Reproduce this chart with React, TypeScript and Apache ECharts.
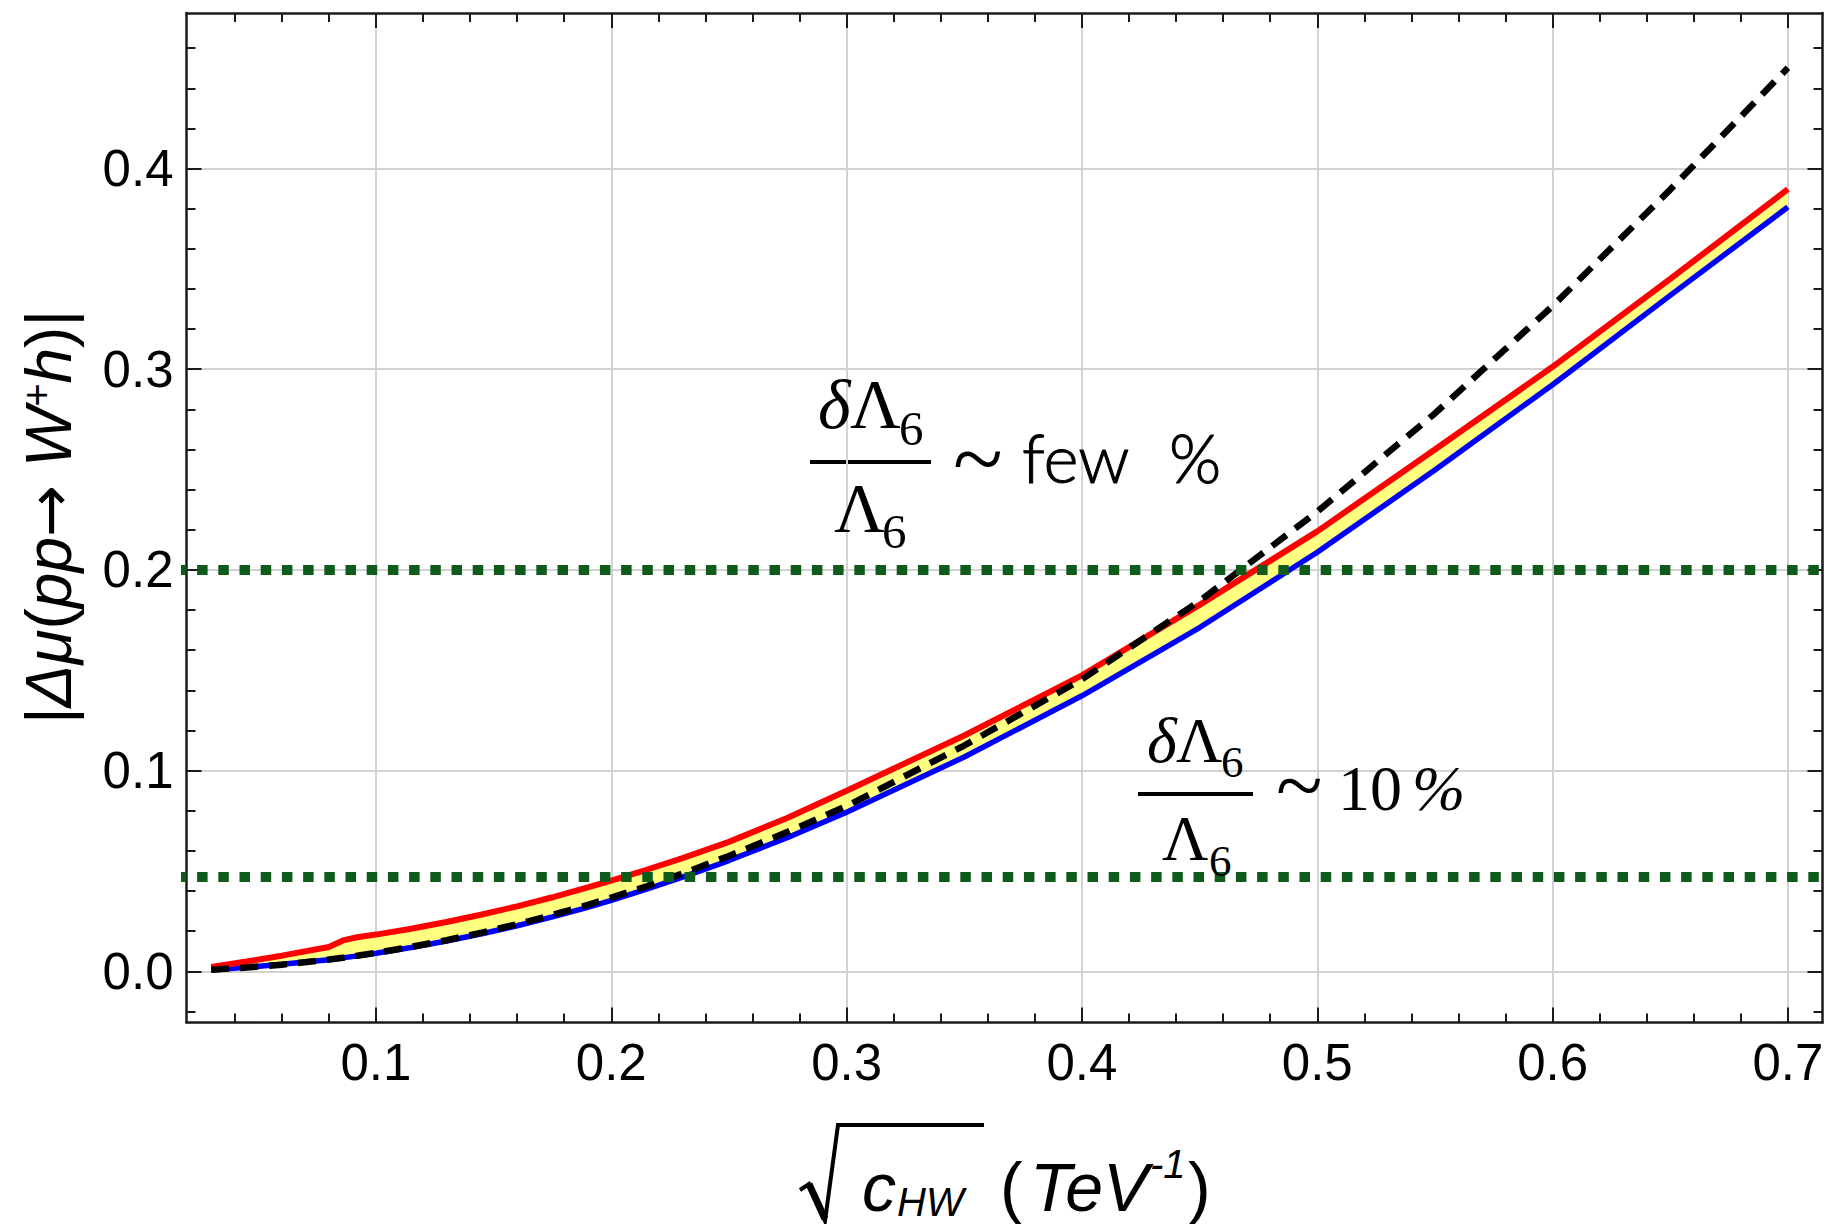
import React, { useEffect, useRef } from 'react';
import * as echarts from 'echarts';

// ---- data ----
const X_VALUES = [0.03, 0.045, 0.06, 0.08, 0.086, 0.092, 0.1, 0.115, 0.13, 0.145, 0.16, 0.175, 0.19, 0.2, 0.215, 0.23, 0.25, 0.275, 0.3, 0.35, 0.4, 0.45, 0.5, 0.55, 0.6, 0.65, 0.7];
const UPPER_RED = [0.0022, 0.0049, 0.0078, 0.0121, 0.0154, 0.017, 0.0183, 0.0212, 0.0246, 0.0283, 0.0324, 0.0369, 0.0418, 0.0452, 0.0506, 0.0563, 0.0645, 0.0765, 0.09, 0.1175, 0.1475, 0.1826, 0.2192, 0.26, 0.3012, 0.345, 0.3897];
const LOWER_BLUE = [0.0006, 0.002, 0.0035, 0.0058, 0.0067, 0.0077, 0.009, 0.0119, 0.0151, 0.0187, 0.0227, 0.0271, 0.0319, 0.0354, 0.0409, 0.0468, 0.0552, 0.0667, 0.0793, 0.1068, 0.1373, 0.1713, 0.2088, 0.2498, 0.2923, 0.3368, 0.3808];
const DASHED_BLACK = [0.0008, 0.0019, 0.0033, 0.0059, 0.0068, 0.0078, 0.0092, 0.0122, 0.0155, 0.0193, 0.0235, 0.0281, 0.0331, 0.0367, 0.0424, 0.0486, 0.0575, 0.0695, 0.0823, 0.1125, 0.1455, 0.1845, 0.229, 0.278, 0.3315, 0.3895, 0.4502];
const THRESHOLDS = [0.2, 0.047];
const THRESHOLD_SPAN = [0.015, 0.7182];

const X_MAJOR = [0.1, 0.2, 0.3, 0.4, 0.5, 0.6, 0.7];
const X_MINOR = [0.04, 0.06, 0.08, 0.12, 0.14, 0.16, 0.18, 0.22, 0.24, 0.26, 0.28, 0.32, 0.34, 0.36, 0.38, 0.42, 0.44, 0.46, 0.48, 0.52, 0.54, 0.56, 0.58, 0.62, 0.64, 0.66, 0.68];
const Y_MAJOR = [0, 0.1, 0.2, 0.3, 0.4];
const Y_MINOR = [-0.02, 0.02, 0.04, 0.06, 0.08, 0.12, 0.14, 0.16, 0.18, 0.22, 0.24, 0.26, 0.28, 0.32, 0.34, 0.36, 0.38, 0.42, 0.44, 0.46];

const X_RANGE = [0.0195, 0.7147];
const Y_RANGE = [-0.0255, 0.4775];

// ---- styles ----
const SANS = "'Liberation Sans', Arial, Helvetica, sans-serif";
const SERIF = "'Liberation Serif', 'Times New Roman', serif";
const LIGHT = "Lato, 'Liberation Sans', sans-serif";
const FRAME = '#1a1a1a';
const GRID = '#d2d2d2';

function makeAxis(kind: 'x' | 'y', position: string, ticks: number[], len: number, showLine: boolean, labels: boolean, split: boolean) {
  const range = kind === 'x' ? X_RANGE : Y_RANGE;
  return {
    type: 'value',
    position,
    min: range[0],
    max: range[1],
    axisLine: { show: showLine, onZero: false, lineStyle: { color: FRAME, width: 2.5 } },
    axisTick: { show: true, inside: true, length: len, customValues: ticks, lineStyle: { color: FRAME, width: 2 } },
    axisLabel: labels
      ? {
          show: true,
          customValues: ticks,
          formatter: (v: number) => v.toFixed(1),
          fontSize: 51,
          fontFamily: SANS,
          color: '#000',
          margin: kind === 'x' ? 14 : 13,
        }
      : { show: false },
    splitLine: { show: split, lineStyle: { color: GRID, width: 2 } },
    minorTick: { show: false },
    minorSplitLine: { show: false },
  };
}

function txt(text: string, left: number, baseline: number, size: number, family: string, extra: any = {}) {
  return {
    type: 'text',
    x: left,
    y: baseline - 0.34 * size,
    silent: true,
    z: 100,
    style: {
      text,
      fill: '#000',
      fontSize: size,
      fontFamily: family,
      fontStyle: extra.italic ? 'italic' : 'normal',
      fontWeight: extra.weight || 'normal',
      textAlign: extra.align || 'left',
      textVerticalAlign: 'middle',
      stroke: extra.stroke ? '#000' : null,
      lineWidth: extra.stroke || 0,
    },
  };
}

// tilde placed by its visual centre
function tilde(left: number, centerY: number, size: number) {
  return {
    type: 'text',
    x: left,
    y: centerY - 0.077 * size,
    silent: true,
    z: 100,
    style: { text: '~', fill: '#000', fontSize: size, fontFamily: SERIF, textAlign: 'left', textVerticalAlign: 'middle' },
  };
}

export default function App() {
  const ref = useRef<HTMLDivElement>(null);

  useEffect(() => {
    if (!ref.current) return;
    const chart = echarts.init(ref.current, undefined, { renderer: 'svg' });

    const pair = (ys: number[]) => X_VALUES.map((x, i) => [x, ys[i]]);

    const option: any = {
      animation: false,
      backgroundColor: '#ffffff',
      grid: { left: 186.5, right: 24.5, top: 13, bottom: 201.5, containLabel: false },
      xAxis: [
        makeAxis('x', 'bottom', X_MAJOR, 15, true, true, true),
        makeAxis('x', 'bottom', X_MINOR, 9, false, false, false),
        makeAxis('x', 'top', X_MAJOR, 15, true, false, false),
        makeAxis('x', 'top', X_MINOR, 9, false, false, false),
      ],
      yAxis: [
        makeAxis('y', 'left', Y_MAJOR, 15, true, true, true),
        makeAxis('y', 'left', Y_MINOR, 9, false, false, false),
        makeAxis('y', 'right', Y_MAJOR, 15, true, false, false),
        makeAxis('y', 'right', Y_MINOR, 9, false, false, false),
      ],
      series: [
        {
          type: 'custom',
          name: 'band',
          xAxisIndex: 0,
          yAxisIndex: 0,
          silent: true,
          z: 2,
          data: [[X_VALUES[0], UPPER_RED[0]]],
          renderItem: (_params: any, api: any) => {
            const pts: number[][] = [];
            for (let i = 0; i < X_VALUES.length; i++) pts.push(api.coord([X_VALUES[i], UPPER_RED[i]]));
            for (let i = X_VALUES.length - 1; i >= 0; i--) pts.push(api.coord([X_VALUES[i], LOWER_BLUE[i]]));
            return { type: 'polygon', shape: { points: pts }, style: { fill: '#ffff80', stroke: null } };
          },
        },
        {
          type: 'line',
          name: 'lower',
          data: pair(LOWER_BLUE),
          symbol: 'none',
          silent: true,
          z: 3,
          lineStyle: { color: '#0000ff', width: 5.5 },
        },
        {
          type: 'line',
          name: 'upper',
          data: pair(UPPER_RED),
          symbol: 'none',
          silent: true,
          z: 4,
          lineStyle: { color: '#ff0000', width: 6 },
        },
        {
          type: 'line',
          name: 'dashed',
          data: pair(DASHED_BLACK),
          symbol: 'none',
          silent: true,
          z: 5,
          lineStyle: { color: '#000000', width: 6.5, type: [18, 11] },
        },
        ...THRESHOLDS.map((t, k) => ({
          type: 'line',
          name: 'threshold' + k,
          data: THRESHOLD_SPAN.map((x) => [x, t]),
          symbol: 'none',
          silent: true,
          clip: false,
          z: 6,
          lineStyle: { color: '#0e5b1b', width: 10, type: [10.5, 10.7] },
        })),
      ],
      graphic: [
        // y-axis title
        {
          type: 'text',
          x: 49,
          y: 517,
          rotation: Math.PI / 2,
          silent: true,
          style: {
            text: '{n||}{i|Δμ}{n|(}{i|pp}{a|→}{n| }{i|W}{s|+}{i|h}{n|)|}',
            textAlign: 'center',
            textVerticalAlign: 'middle',
            fill: '#000',
            rich: {
              n: { fontSize: 64, fontFamily: SANS, fill: '#000' },
              i: { fontSize: 64, fontFamily: SANS, fontStyle: 'italic', fill: '#000' },
              a: { fontSize: 62, fontFamily: "'DejaVu Sans', sans-serif", fill: '#000' },
              s: { fontSize: 40, fontFamily: SANS, fill: '#000', verticalAlign: 'top' },
            },
          },
        },
        // x-axis title
        {
          type: 'polyline',
          silent: true,
          shape: { points: [[800, 1190], [809, 1184], [825, 1221], [838, 1125], [984, 1125]] },
          style: { stroke: '#000', lineWidth: 4, fill: null, lineJoin: 'miter' },
        },
        {
          type: 'line',
          silent: true,
          shape: { x1: 809, y1: 1184, x2: 825, y2: 1219 },
          style: { stroke: '#000', lineWidth: 7 },
        },
        txt('c', 862, 1210, 68, SANS, { italic: true }),
        txt('HW', 897, 1216, 40, SANS, { italic: true }),
        txt('(', 1000, 1210, 68, SANS),
        txt('TeV', 1030, 1210, 68, SANS, { italic: true }),
        txt('-1', 1150, 1178, 40, SANS, { italic: true }),
        txt(')', 1188, 1210, 68, SANS),
        // upper annotation
        txt('δ', 818, 428, 70, SERIF, { italic: true }),
        txt('Λ', 850, 428, 70, SERIF),
        txt('6', 899, 445, 49, SERIF),
        { type: 'rect', silent: true, shape: { x: 810, y: 460, width: 121, height: 4 }, style: { fill: '#000' } },
        txt('Λ', 834, 532, 70, SERIF),
        txt('6', 882, 548, 49, SERIF),
        tilde(953, 465, 92),
        txt('few', 1022, 480, 67, LIGHT, { weight: 300, stroke: 1 }),
        txt('%', 1169, 480, 67, LIGHT, { weight: 300, stroke: 1 }),
        // lower annotation
        txt('δ', 1147, 762, 64, SERIF, { italic: true }),
        txt('Λ', 1176, 762, 64, SERIF),
        txt('6', 1221, 777, 45, SERIF),
        { type: 'rect', silent: true, shape: { x: 1138, y: 792, width: 115, height: 4 }, style: { fill: '#000' } },
        txt('Λ', 1162, 860, 64, SERIF),
        txt('6', 1209, 876, 45, SERIF),
        tilde(1276, 792, 86),
        txt('10', 1338, 810, 64, SERIF),
        txt('%', 1412, 810, 64, SERIF, { italic: true }),
      ],
    };

    chart.setOption(option);
    return () => chart.dispose();
  }, []);

  return <div ref={ref} style={{ position: 'fixed', left: 0, top: 0, width: 1847, height: 1224, background: '#fff' }} />;
}
